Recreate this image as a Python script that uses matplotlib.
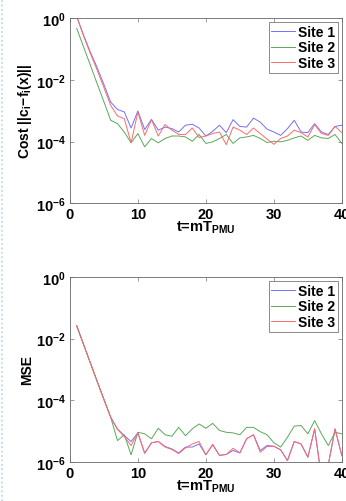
import matplotlib
matplotlib.use("Agg")
import matplotlib.pyplot as plt
from matplotlib.lines import Line2D
import numpy as np

plt.rcParams['font.family'] = ['Liberation Sans', 'DejaVu Sans']
plt.rcParams['font.weight'] = 'bold'
plt.rcParams['mathtext.fontset'] = 'custom'
plt.rcParams['mathtext.rm'] = 'Liberation Sans:bold'
plt.rcParams['mathtext.bf'] = 'Liberation Sans:bold'
plt.rcParams['mathtext.it'] = 'Liberation Sans:bold'

t = np.arange(1, 41)
labels = ['Site 1', 'Site 2', 'Site 3']

# log10 of the cost
cost_site1 = [0.05, -0.55, -1.1, -1.6, -2.15, -2.72, -2.96, -3.04, -3.56, -3.01,
              -3.61, -3.28, -3.63, -3.53, -3.58, -3.69, -3.47, -3.44, -3.56, -3.82,
              -3.67, -3.47, -3.71, -3.29, -3.51, -3.53, -3.24, -3.37, -3.6, -3.69,
              -3.8, -3.58, -3.31, -3.69, -3.71, -3.42, -3.69, -3.77, -3.51, -3.47]
cost_site2 = [-0.33, -0.93, -1.52, -2.12, -2.71, -3.31, -3.42, -3.69, -4.04, -3.74,
              -4.17, -3.9, -4.04, -3.9, -3.82, -3.82, -3.85, -3.99, -3.77, -4.06,
              -4.01, -3.9, -3.77, -4.06, -3.88, -3.85, -3.8, -3.9, -4.03, -3.99,
              -4.01, -3.96, -3.88, -3.82, -3.96, -3.8, -3.88, -3.9, -3.77, -4.06]
cost_site3 = [0.05, -0.57, -1.14, -1.68, -2.25, -2.83, -3.17, -3.26, -4.04, -3.04,
              -3.8, -3.29, -3.82, -3.45, -3.63, -3.77, -3.77, -3.56, -3.87, -3.82,
              -3.74, -3.69, -4.1, -3.53, -3.63, -3.77, -3.56, -3.74, -3.92, -4.09,
              -3.9, -3.82, -3.63, -3.71, -3.85, -3.45, -3.74, -3.8, -3.51, -3.71]

# log10 of the MSE
mse_site1 = [-1.58, -2.18, -2.78, -3.38, -3.97, -4.55, -4.93, -5.15, -5.34, -5.06,
             -5.72, -5.38, -5.34, -5.5, -5.58, -5.71, -5.52, -5.52, -5.42, -5.77,
             -5.45, -5.79, -5.76, -5.63, -5.71, -5.25, -5.12, -5.63, -5.47, -5.49,
             -5.61, -5.96, -5.34, -5.42, -5.85, -4.93, -6.5, -6.1, -4.93, -5.8]
mse_site2 = [-1.58, -2.18, -2.78, -3.38, -3.97, -4.55, -5.31, -5.12, -5.77, -5.04,
             -5.09, -5.25, -4.91, -5.12, -5.17, -4.88, -5.15, -4.93, -4.77, -4.91,
             -4.75, -4.98, -5.04, -5.06, -5.12, -4.88, -4.88, -5.02, -5.12, -5.38,
             -5.52, -5.2, -4.84, -4.82, -5.09, -4.66, -5.09, -5.47, -5.04, -5.09]
mse_site3 = [-1.58, -2.18, -2.78, -3.38, -3.97, -4.55, -4.95, -5.18, -5.47, -5.06,
             -5.72, -5.38, -5.34, -5.52, -5.6, -5.73, -5.55, -5.42, -5.34, -5.77,
             -5.43, -5.79, -5.76, -5.56, -5.71, -5.25, -5.12, -5.69, -5.5, -5.5,
             -5.61, -5.96, -5.34, -5.42, -5.85, -4.93, -6.5, -6.1, -4.93, -5.8]

colors = ['#7070ff', '#5aa85a', '#ff6a6a']

fig = plt.figure(figsize=(3.46, 5.02), dpi=100)
ax1 = fig.add_axes([0.202, 0.593, 0.786, 0.369])
ax2 = fig.add_axes([0.202, 0.078, 0.786, 0.368])

def style_axis(ax, series, ylabel):
    for s, c, lab in zip(series, colors, labels):
        ax.plot(t, 10.0 ** np.array(s), color=c, lw=0.7, label=lab)
    ax.set_yscale('log')
    ax.set_xlim(0, 40)
    ax.set_ylim(1e-6, 1e0)
    ax.set_xticks([0, 10, 20, 30, 40])
    ax.set_yticks([1e-6, 1e-4, 1e-2, 1e0])
    ax.set_yticklabels([r'$10^{-6}$', r'$10^{-4}$', r'$10^{-2}$', r'$10^{0}$'])
    ax.minorticks_off()
    ax.tick_params(direction='in', length=3, width=0.5, top=True, right=True,
                   labelsize=10.5, pad=3, color='#777777')
    for sp in ax.spines.values():
        sp.set_linewidth(0.6)
        sp.set_color('#666666')
    ax.set_xlabel(r't=mT$_{\mathbf{PMU}}$', fontsize=10.5, fontweight='bold', labelpad=-2)
    ax.set_ylabel(ylabel, fontsize=10, fontweight='bold', labelpad=1)
    leg = ax.legend(loc='upper right', fontsize=10, handlelength=1.7,
                    handletextpad=0.2, borderpad=0.2, labelspacing=0.1,
                    fancybox=False, framealpha=1, borderaxespad=0.3)
    leg.get_frame().set_edgecolor('#777777')
    leg.get_frame().set_linewidth(0.6)
    for txt in leg.get_texts():
        txt.set_fontweight('bold')

style_axis(ax1, [cost_site1, cost_site2, cost_site3], r'Cost $||c_i\!-\!f_i(x)||$')
style_axis(ax2, [mse_site1, mse_site2, mse_site3], 'MSE')

# faint page border at the left edge of the scan
fig.add_artist(Line2D([0.005, 0.005], [0, 1], transform=fig.transFigure,
                      color='#b8d4ea', lw=1.2, ls=':'))

fig.savefig('out.png', dpi=100)
